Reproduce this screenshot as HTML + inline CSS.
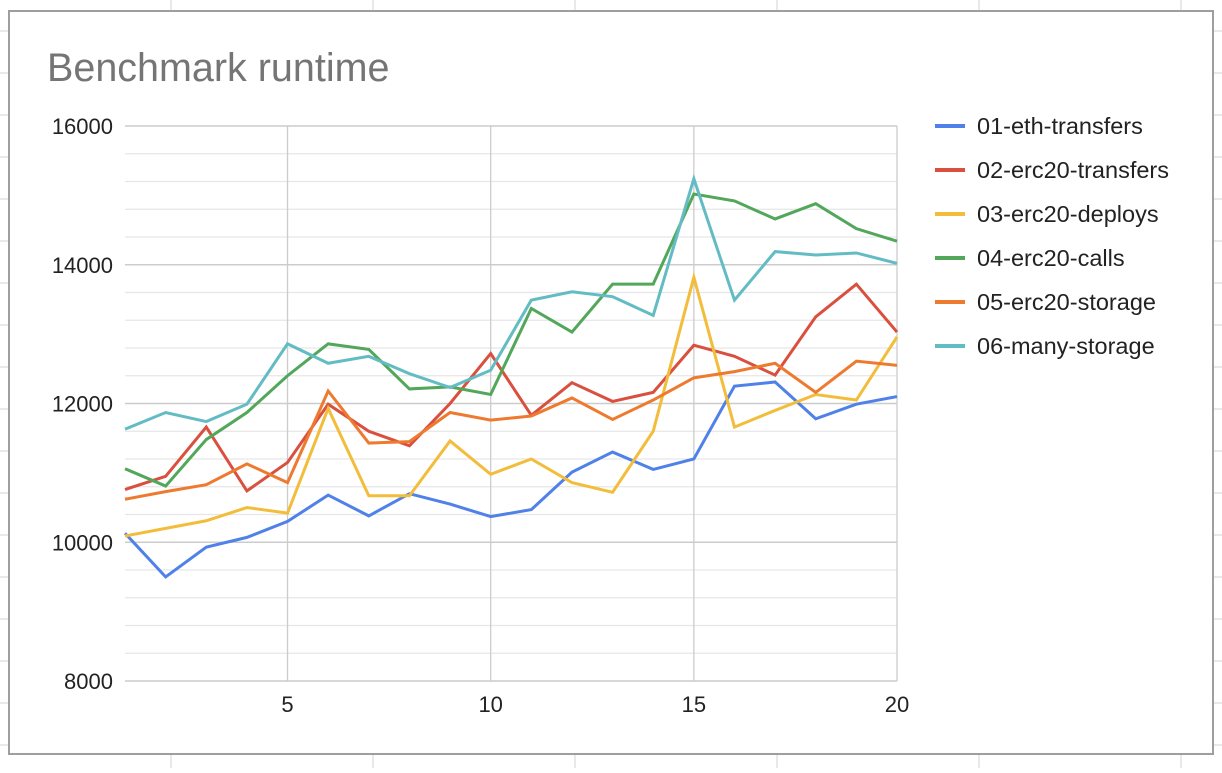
<!DOCTYPE html>
<html><head><meta charset="utf-8"><style>
html,body{margin:0;padding:0;background:#fff;}
body{width:1222px;height:768px;overflow:hidden;position:relative;font-family:"Liberation Sans",Arial,sans-serif;}
</style></head><body>
<svg id="c" width="1222" height="768" xmlns="http://www.w3.org/2000/svg"></svg>
<script>
const categories=[1,2,3,4,5,6,7,8,9,10,11,12,13,14,15,16,17,18,19,20];
const seriesNames=["01-eth-transfers","02-erc20-transfers","03-erc20-deploys","04-erc20-calls","05-erc20-storage","06-many-storage"];
const s01=[10130,9500,9930,10070,10300,10680,10380,10700,10550,10370,10470,11010,11300,11050,11200,12250,12310,11780,11990,12100];
const s02=[10760,10950,11660,10740,11150,11990,11600,11390,12000,12720,11830,12300,12030,12160,12840,12680,12410,13250,13720,13030];
const s03=[10090,10200,10310,10500,10420,11930,10670,10670,11460,10980,11200,10860,10720,11600,13820,11660,11900,12130,12050,12960];
const s04=[11060,10810,11480,11870,12400,12860,12780,12210,12240,12130,13370,13030,13720,13720,15020,14920,14660,14880,14520,14340];
const s05=[10620,10730,10830,11130,10860,12180,11430,11450,11870,11760,11820,12080,11770,12050,12370,12460,12580,12160,12610,12550];
const s06=[11630,11870,11740,11990,12860,12580,12680,12430,12230,12480,13490,13610,13540,13270,15240,13490,14190,14140,14170,14020];
const yTicks=[8000,10000,12000,14000,16000];
const xTicks=[5,10,15,20];
const colors=["#4f81e8","#d9503f","#f3bd3c","#52a75a","#ee7a2f","#63bcc3"];
const allSeries=[s01,s02,s03,s04,s05,s06];

const NS="http://www.w3.org/2000/svg";
const svg=document.getElementById('c');
const L=125,R=897,T=126,B=681,yMin=8000,yMax=16000;
function xS(v){return L+(v-1)/(19)*(R-L);}
function yS(v){return B-(v-yMin)/(yMax-yMin)*(B-T);}
function mk(tag,attrs){const e=document.createElementNS(NS,tag);for(const k in attrs)e.setAttribute(k,attrs[k]);svg.appendChild(e);return e;}

for(let y=31;y<768;y+=42){const e=mk('line',{x1:0,x2:1222,y1:y,y2:y,stroke:'#e2e2e2','stroke-width':1.5});

}
[171,373,575,777,979,1181].forEach(x=>{const e=mk('line',{x1:x,x2:x,y1:0,y2:768,stroke:'#e2e2e2','stroke-width':1.5});

});
const box=mk('rect',{x:9,y:11,width:1204,height:743,fill:'#fff',stroke:'#9e9e9e','stroke-width':2});



const title=mk('text',{x:47,y:81,'font-size':39.5,fill:'#757575','font-family':'Liberation Sans, Arial, sans-serif'});
title.textContent='Benchmark runtime';



for(let v=yMin;v<=yMax;v+=400){
  if(v%2000===0)continue;
  const e=mk('line',{x1:L,x2:R,y1:yS(v),y2:yS(v),stroke:'#e6e6e6','stroke-width':1.3});
  
  
}
xTicks.forEach(t=>{
  const e=mk('line',{x1:xS(t),x2:xS(t),y1:T,y2:B,stroke:'#cccccc','stroke-width':1.3});
  
  
  const lb=mk('text',{x:xS(t),y:B+31,'font-size':22,'text-anchor':'middle',fill:'#222'});
  lb.textContent=t;
  
  
});
yTicks.forEach(t=>{
  const e=mk('line',{x1:L,x2:R,y1:yS(t),y2:yS(t),stroke:'#cccccc','stroke-width':1.6});
  
  
  const lb=mk('text',{x:113,y:yS(t)+8,'font-size':22,'text-anchor':'end',fill:'#222'});
  lb.textContent=t;
  
  
});

allSeries.forEach((s,i)=>{
  const pts=s.map((v,j)=>xS(categories[j])+','+yS(v)).join(' ');
  const p=mk('polyline',{points:pts,fill:'none',stroke:colors[i],'stroke-width':3,'stroke-linejoin':'miter'});
  
  
  const ly=126+i*44;
  const lm=mk('line',{x1:935,x2:965,y1:ly,y2:ly,stroke:colors[i],'stroke-width':4});
  
  
  const lt=mk('text',{x:977,y:ly+8,'font-size':23.5,fill:'#222'});
  lt.textContent=seriesNames[i];
  
  
});
</script>
</body></html>
